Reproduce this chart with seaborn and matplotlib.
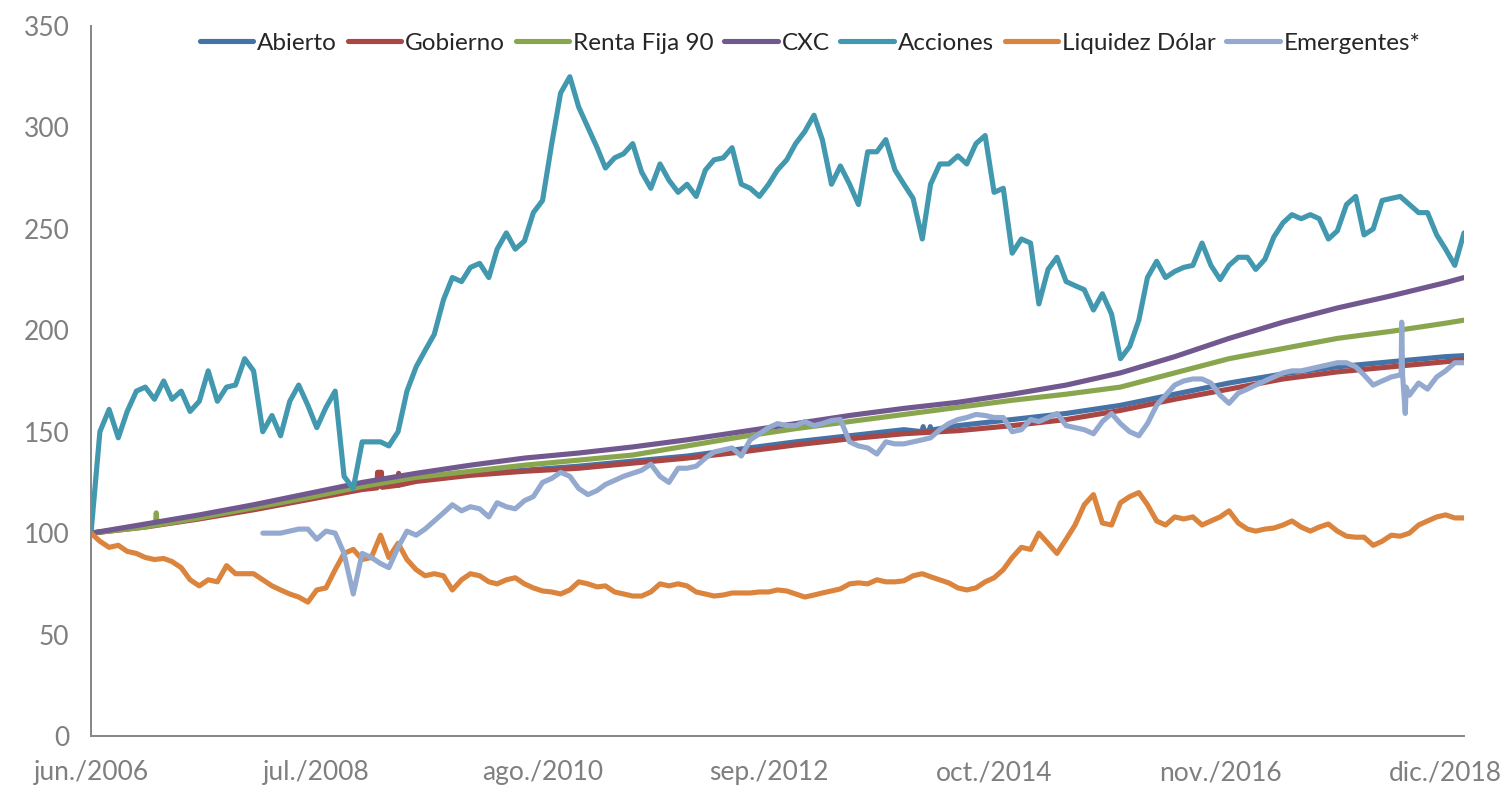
import pandas as pd
import matplotlib
matplotlib.use('Agg')
import matplotlib.pyplot as plt
import seaborn as sns

# ---- datos (indice base 100 = jun/2006) ----
# series mensuales (primer dia de cada mes, jun/2006 .. feb/2019)
fechas_mes = pd.date_range('2006-06-01', '2019-02-01', freq='MS')

acciones = [
    100, 150, 161, 147, 160, 170, 172, 166, 175, 166, 170, 160, 165, 180, 165, 172, 173, 186, 180,
    150, 158, 148, 165, 173, 163, 152, 162, 170, 128, 122, 145, 145, 145, 143, 150, 170, 182, 190,
    198, 215, 226, 224, 231, 233, 226, 240, 248, 240, 244, 258, 264, 292, 317, 325, 310, 300, 290,
    280, 285, 287, 292, 278, 270, 282, 274, 268, 272, 266, 279, 284, 285, 290, 272, 270, 266, 272,
    279, 284, 292, 298, 306, 294, 272, 281, 272, 262, 288, 288, 294, 279, 272, 265, 245, 272, 282,
    282, 286, 282, 292, 296, 268, 270, 238, 245, 243, 213, 230, 236, 224, 222, 220, 210, 218, 208,
    186, 192, 205, 226, 234, 226, 229, 231, 232, 243, 232, 225, 232, 236, 236, 230, 235, 246, 253,
    257, 255, 257, 255, 245, 249, 262, 266, 247, 250, 264, 265, 266, 262, 258, 258, 247, 240, 232,
    248]

liquidez = [
    100, 96, 93, 94, 91, 90, 88, 87, 87.5, 86, 83, 77, 74, 77, 76, 84, 80, 80, 80,
    77, 74, 72, 70, 68.5, 66, 72, 73, 82, 90, 92, 87, 88, 99, 88, 95, 87, 82, 79,
    80, 79, 72, 77, 80, 79, 76, 75, 77, 78, 75, 73, 71.5, 71, 70, 72, 76, 75, 73.5,
    74, 71, 70, 69, 69, 71, 75, 74, 75, 74, 71, 70, 69, 69.5, 70.5, 70.5, 70.5, 71, 71,
    72, 71.5, 70, 68.5, 69.5, 70.5, 71.5, 72.5, 75, 75.5, 75, 77, 76, 76, 76.5, 79, 80, 78.5,
    77, 75.5, 73, 72, 73, 76, 78, 82, 88, 93, 92, 100, 95, 90, 97, 104, 114, 119, 105,
    104, 115, 118, 120, 114, 106, 104, 108, 107, 108, 104, 106, 108, 111, 105, 102, 101, 102, 102.5,
    104, 106, 103, 101, 103, 104.5, 101, 98.5, 98, 98, 94, 96, 99, 98.5, 100, 104, 106, 108, 109,
    107.5, 107.5]

# Emergentes parte en ene/2008
fechas_emerg = pd.date_range('2008-01-01', '2019-02-01', freq='MS')
emergentes = [
    100, 100, 100, 101, 102, 102, 97, 101, 100, 90, 70, 90, 88, 85, 83, 93, 101, 99, 102,
    106, 110, 114, 111, 113, 112, 108, 115, 113, 112, 116, 118, 125, 127, 130, 128, 122, 119,
    121, 124, 126, 128, 129.5, 131, 134, 128, 125, 132, 132, 133, 137, 140, 141, 142, 138, 146,
    149, 152, 154, 153, 153, 155, 153, 154, 155.5, 156, 145, 143, 142, 139, 145, 144, 144, 145,
    146, 147, 151, 154, 156, 157, 158.5, 158, 157, 157, 150, 151, 156, 155, 157, 159, 153, 152,
    151, 149, 155, 159, 154, 150, 148, 154, 163, 168, 173, 175, 176, 176, 174, 168, 164, 169,
    171, 173, 175, 177, 179, 180, 180, 181, 182, 183, 184, 184, 182, 178, 173, 175, 177, 178,
    168, 174, 171, 177, 180, 184, 184]
emerg_pico_fechas = ['2018-07-04', '2018-07-06', '2018-07-09', '2018-07-18', '2018-07-21']
emerg_pico_vals = [178, 204, 178, 159, 172]

# series suaves, lectura semestral (jun y dic) + ultimo punto
fechas_sem = list(pd.date_range('2006-06-01', '2018-12-01', freq='6MS')) + [pd.Timestamp('2019-02-01')]
abierto = [100, 103.5, 107.5, 112, 117, 122, 126, 129, 131, 133, 135.5, 138, 141.5, 145,
           148, 151, 153, 156, 159, 163, 168.5, 174, 178.5, 182, 184.5, 187, 187.5]
gobierno = [100, 103, 107, 111.5, 116.5, 121.5, 125.5, 128.5, 130.5, 132, 134.5, 137, 140, 143.5,
            146.5, 149, 150.5, 153, 156, 160.5, 166, 171, 176, 179.5, 182, 184.5, 185.5]
renta_fija = [100, 103, 107.5, 112.5, 117.5, 123, 127.5, 130.5, 133.5, 136, 138.5, 143, 147.5, 151.5,
              155, 158.5, 162, 165.5, 168.5, 172, 179, 186, 191, 196, 199.5, 203.5, 205]
cxc = [100, 104.5, 109, 114, 119.5, 125, 129.5, 133.5, 137, 139.5, 142.5, 146, 150, 154,
       158, 161.5, 164.5, 168.5, 173, 179, 187, 196, 204, 211, 217, 223.5, 226]

# saltos puntuales visibles
abierto_pico_fechas = ['2014-02-01', '2014-02-04', '2014-02-08', '2014-02-25', '2014-02-28', '2014-03-03']
abierto_pico_vals = [150, 152.5, 150.2, 150.6, 152.5, 150.8]
gobierno_pico_fechas = ['2009-01-20', '2009-01-22', '2009-02-04', '2009-02-06',
                        '2009-04-01', '2009-04-03', '2009-04-06']
gobierno_pico_vals = [122.3, 130, 130, 122.6, 123.6, 129.5, 123.7]
renta_pico_fechas = ['2007-01-04', '2007-01-07', '2007-01-10']
renta_pico_vals = [104, 110, 104]

orden = ['Abierto', 'Gobierno', 'Renta Fija 90', 'CXC', 'Acciones', 'Liquidez Dólar', 'Emergentes*']
colores = ['#4572A7', '#AA4643', '#89A54E', '#71588F', '#4198AF', '#DB843D', '#93A9CF']

tick_fechas = ['2006-06-01', '2008-07-01', '2010-08-01', '2012-09-01',
               '2014-10-01', '2016-11-01', '2018-12-01']
tick_labels = ['jun./2006', 'jul./2008', 'ago./2010', 'sep./2012',
               'oct./2014', 'nov./2016', 'dic./2018']


def serie(nombre, fechas, valores):
    return pd.DataFrame({'fecha': pd.to_datetime(fechas), 'valor': valores, 'serie': nombre})


df = pd.concat([
    serie('Abierto', fechas_sem, abierto),
    serie('Abierto', abierto_pico_fechas, abierto_pico_vals),
    serie('Gobierno', fechas_sem, gobierno),
    serie('Gobierno', gobierno_pico_fechas, gobierno_pico_vals),
    serie('Renta Fija 90', fechas_sem, renta_fija),
    serie('Renta Fija 90', renta_pico_fechas, renta_pico_vals),
    serie('CXC', fechas_sem, cxc),
    serie('Acciones', fechas_mes, acciones),
    serie('Liquidez Dólar', fechas_mes, liquidez),
    serie('Emergentes*', fechas_emerg, emergentes),
    serie('Emergentes*', emerg_pico_fechas, emerg_pico_vals),
], ignore_index=True)

sns.set_style('white')
plt.rcParams['font.family'] = ['Lato', 'DejaVu Sans']

gris = '#868686'
grosor = 3.7
fig = plt.figure(figsize=(15.07, 7.87), dpi=100)
ax = fig.add_axes([91 / 1507, 1 - 736 / 787, (1464 - 91) / 1507, (736 - 26) / 787])

sns.lineplot(data=df, x='fecha', y='valor', hue='serie', hue_order=orden,
             palette=dict(zip(orden, colores)), estimator=None, sort=True,
             linewidth=grosor, solid_joinstyle='round', solid_capstyle='round', ax=ax)

ax.set_xlim(pd.Timestamp('2006-06-01'), pd.Timestamp('2019-02-01'))
ax.set_ylim(0, 350)
ax.set_yticks(range(0, 351, 50))
ax.set_xticks(pd.to_datetime(tick_fechas))
ax.set_xticklabels(tick_labels)
ax.set_xlabel('')
ax.set_ylabel('')

for lado in ['top', 'right']:
    ax.spines[lado].set_visible(False)
for lado in ['left', 'bottom']:
    ax.spines[lado].set_color(gris)
    ax.spines[lado].set_linewidth(1.4)

ax.tick_params(axis='both', direction='out', length=5.5, width=1.2, color=gris,
               labelcolor='#7F7F7F', labelsize=19)
ax.tick_params(axis='y', pad=10)
ax.tick_params(axis='x', pad=12)
ax.grid(False)

handles, labels = ax.get_legend_handles_labels()
ax.get_legend().remove()
for h in handles:
    h.set_linewidth(grosor)
    h.set_solid_capstyle('round')
fig.legend(handles, labels, loc='center', bbox_to_anchor=(810 / 1507, 1 - 43 / 787),
           ncol=7, frameon=False, fontsize=17.5, handlelength=2.2, handletextpad=0.15,
           columnspacing=0.45)

plt.savefig('out.png', dpi=100)
